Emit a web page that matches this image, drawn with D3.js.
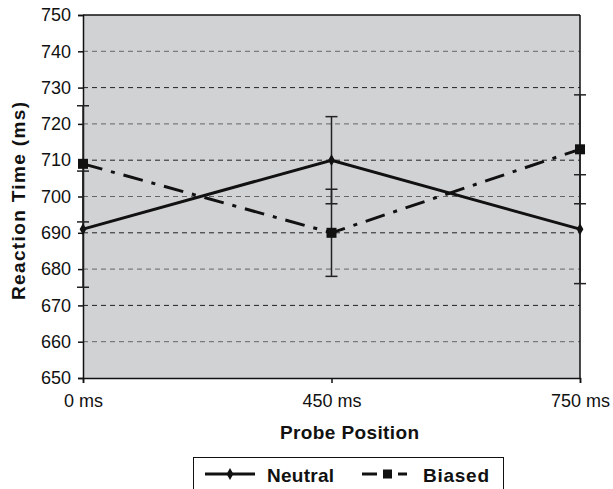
<!DOCTYPE html>
<html>
<head>
<meta charset="utf-8">
<script src="https://cdn.jsdelivr.net/npm/d3@7"></script>
<style>
  body { margin: 0; background: #fff; }
  text { font-family: Arial, "Liberation Sans", sans-serif; fill: #111; }
</style>
</head>
<body>
<div id="chart"></div>
<script>
// data
var positions = ["0 ms", "450 ms", "750 ms"];
var neutral = [691, 710, 691];
var neutralErr = [16, 12, 15];
var biased = [709, 690, 713];
var biasedErr = [16, 12, 15];
var yTicks = [650, 660, 670, 680, 690, 700, 710, 720, 730, 740, 750];

var margin = {top: 15, right: 33, bottom: 111, left: 83},
  width = 613 - margin.left - margin.right,
  height = 489 - margin.top - margin.bottom;

var svg = d3.select("#chart")
  .append("svg")
    .attr("width", 613)
    .attr("height", 489);

var g = svg.append("g")
  .attr("transform", "translate(" + margin.left + "," + margin.top + ")");

var x = d3.scalePoint().domain(positions).range([0, width]);
var y = d3.scaleLinear().domain([650, 750]).range([height, 0]);

// grey plot area
g.append("rect")
  .attr("width", width)
  .attr("height", height)
  .style("fill", "#d1d2d4");

// dashed grid
g.selectAll(".grid")
  .data(yTicks.filter(d => d > 650 && d < 750))
  .enter()
  .append("line")
    .attr("x1", 0).attr("x2", width)
    .attr("y1", d => y(d)).attr("y2", d => y(d))
    .style("stroke", (d, i) => i % 2 ? "#222" : "#666")
    .style("stroke-width", 1)
    .style("stroke-dasharray", "5,4");

// borders
g.append("line").attr("x1", 0).attr("x2", width).attr("y1", 0).attr("y2", 0)
  .style("stroke", "#111").style("stroke-width", 1.5);
g.append("line").attr("x1", width).attr("x2", width).attr("y1", 0).attr("y2", height)
  .style("stroke", "#111").style("stroke-width", 1.5);

// axes
var yAxis = g.append("g")
  .call(d3.axisLeft(y).tickValues(yTicks).tickSize(5).tickPadding(7));
var xAxis = g.append("g")
  .attr("transform", "translate(0," + height + ")")
  .call(d3.axisBottom(x).tickSize(5).tickPadding(11));
[yAxis, xAxis].forEach(function(a) {
  a.select(".domain").style("stroke", "#111").style("stroke-width", 1.5);
  a.selectAll(".tick line").style("stroke", "#111").style("stroke-width", 1.5);
  a.selectAll("text").style("font-size", "18px").style("fill", "#111")
    .style("font-family", "Arial, 'Liberation Sans', sans-serif");
});

// error bars
function errorBars(vals, errs) {
  var eb = g.append("g");
  vals.forEach(function(v, i) {
    var cx = x(positions[i]);
    eb.append("line")
      .attr("x1", cx).attr("x2", cx)
      .attr("y1", y(v - errs[i])).attr("y2", y(v + errs[i]))
      .style("stroke", "#222").style("stroke-width", 1.5);
    [v - errs[i], v + errs[i]].forEach(function(e) {
      eb.append("line")
        .attr("x1", cx - 6).attr("x2", cx + 6)
        .attr("y1", y(e)).attr("y2", y(e))
        .style("stroke", "#222").style("stroke-width", 1.5);
    });
  });
}
errorBars(neutral, neutralErr);
errorBars(biased, biasedErr);

var line = d3.line()
  .x((d, i) => x(positions[i]))
  .y(d => y(d));

g.append("path")
  .datum(biased)
  .attr("d", line)
  .style("fill", "none")
  .style("stroke", "#111")
  .style("stroke-width", 3)
  .style("stroke-dasharray", "20,9,4,9");

g.append("path")
  .datum(neutral)
  .attr("d", line)
  .style("fill", "none")
  .style("stroke", "#111")
  .style("stroke-width", 3);

// markers
g.selectAll(".sq")
  .data(biased)
  .enter()
  .append("rect")
    .attr("x", (d, i) => x(positions[i]) - 5)
    .attr("y", d => y(d) - 5)
    .attr("width", 10).attr("height", 10)
    .style("fill", "#111");

g.selectAll(".dia")
  .data(neutral)
  .enter()
  .append("path")
    .attr("d", d3.symbol().type(d3.symbolDiamond).size(40))
    .attr("transform", (d, i) => "translate(" + x(positions[i]) + "," + y(d) + ")")
    .style("fill", "#111");

// axis titles
svg.append("text")
  .attr("transform", "translate(25,201) rotate(-90)")
  .attr("text-anchor", "middle")
  .attr("textLength", 198)
  .attr("lengthAdjust", "spacing")
  .style("font-size", "19px")
  .style("font-weight", "bold")
  .text("Reaction Time (ms)");

svg.append("text")
  .attr("x", 349.5)
  .attr("y", 439)
  .attr("text-anchor", "middle")
  .attr("textLength", 139)
  .attr("lengthAdjust", "spacing")
  .style("font-size", "19px")
  .style("font-weight", "bold")
  .text("Probe Position");

// legend
var lg = svg.append("g");
lg.append("rect")
  .attr("x", 193.5).attr("y", 457.5)
  .attr("width", 310).attr("height", 40)
  .style("fill", "#fff").style("stroke", "#111").style("stroke-width", 1);

lg.append("line").attr("x1", 205).attr("x2", 255).attr("y1", 474).attr("y2", 474)
  .style("stroke", "#111").style("stroke-width", 3);
lg.append("path")
  .attr("d", d3.symbol().type(d3.symbolDiamond).size(40))
  .attr("transform", "translate(230,474)")
  .style("fill", "#111");
lg.append("text").attr("x", 267).attr("y", 482)
  .attr("textLength", 67).attr("lengthAdjust", "spacing")
  .style("font-size", "19px").style("font-weight", "bold").text("Neutral");

lg.append("line").attr("x1", 362).attr("x2", 377).attr("y1", 474).attr("y2", 474)
  .style("stroke", "#111").style("stroke-width", 3);
lg.append("rect").attr("x", 383).attr("y", 469.5).attr("width", 9).attr("height", 9)
  .style("fill", "#111");
lg.append("line").attr("x1", 398).attr("x2", 407).attr("y1", 474).attr("y2", 474)
  .style("stroke", "#111").style("stroke-width", 3);
lg.append("text").attr("x", 423).attr("y", 482)
  .attr("textLength", 66).attr("lengthAdjust", "spacing")
  .style("font-size", "19px").style("font-weight", "bold").text("Biased");
</script>
</body>
</html>
